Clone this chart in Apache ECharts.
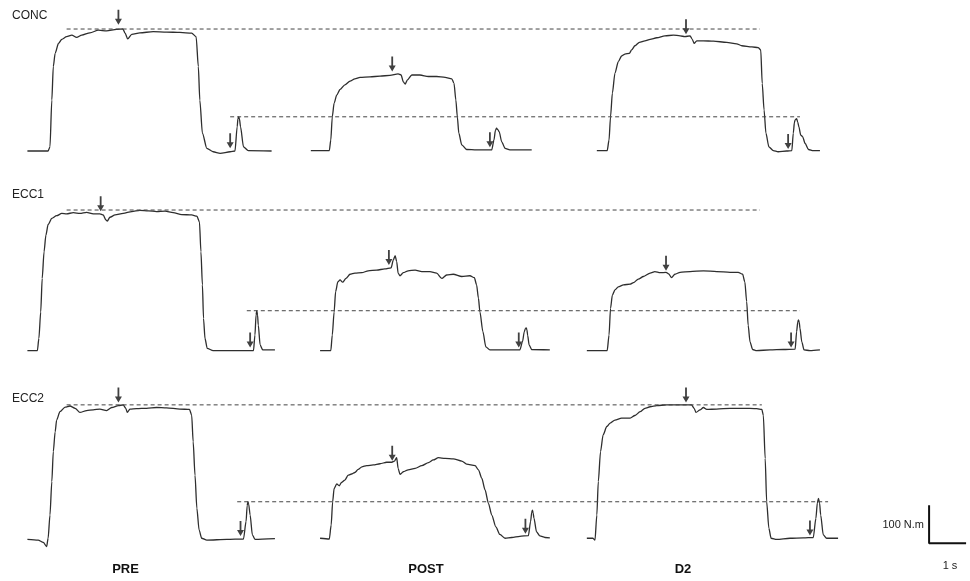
<!DOCTYPE html>
<html>
<head>
<meta charset="utf-8">
<title>Torque traces</title>
<script src="https://cdn.jsdelivr.net/npm/echarts@6/dist/echarts.min.js"></script>
<style>
  html, body { margin: 0; padding: 0; background: #fff; }
  #chart { width: 970px; height: 581px; }
</style>
</head>
<body>
<div id="chart"></div>
<script>
// Torque traces (N.m vs s) for three contraction types at PRE / POST / D2.
// Arrows mark the superimposed and potentiated twitches.

const rowNames = ['CONC', 'ECC1', 'ECC2'];
const sessionNames = ['PRE', 'POST', 'D2'];

// [time s, torque N.m]
const concPre = [[0.20,0],[0.76,0],[0.81,11],[0.86,134],[0.90,222],[0.95,257],[1.04,283],[1.13,294],[1.26,301],[1.40,305],[1.53,299],[1.67,305],[1.89,311],[2.12,318],[2.34,316],[2.61,320],[2.78,321],[2.84,310],[2.91,295],[3.02,307],[3.24,311],[3.60,314],[3.96,313],[4.32,312],[4.64,310],[4.76,301],[4.82,222],[4.86,134],[4.93,47],[5.05,7],[5.22,-2],[5.41,-6],[5.68,-2],[5.81,0],[5.87,64],[5.89,85],[5.91,90],[5.93,85],[5.96,64],[6.04,11],[6.17,1],[6.80,0]];
const concPost = [[7.86,1],[8.36,1],[8.40,29],[8.44,90],[8.49,126],[8.56,147],[8.65,162],[8.78,174],[8.92,184],[9.05,190],[9.19,194],[9.46,195],[9.73,197],[10.00,199],[10.22,203],[10.30,200],[10.36,182],[10.41,176],[10.47,187],[10.59,200],[10.81,200],[11.04,196],[11.26,196],[11.49,194],[11.67,190],[11.73,178],[11.78,134],[11.82,90],[11.86,47],[11.94,16],[12.07,4],[12.34,3],[12.75,3],[12.81,29],[12.85,55],[12.88,60],[12.91,57],[12.95,51],[13.02,24],[13.11,7],[13.24,3],[13.83,3]];
const concD2 = [[15.59,1],[15.87,1],[15.92,29],[15.96,90],[16.01,152],[16.08,205],[16.17,235],[16.26,250],[16.35,255],[16.47,257],[16.53,266],[16.62,277],[16.74,286],[16.89,290],[17.03,294],[17.21,298],[17.43,303],[17.66,305],[17.84,303],[17.97,301],[18.11,303],[18.17,294],[18.22,283],[18.29,290],[18.47,290],[18.74,289],[19.10,286],[19.37,282],[19.51,277],[19.78,274],[19.95,272],[20.02,266],[20.06,178],[20.11,108],[20.16,47],[20.24,11],[20.36,1],[20.49,-2],[20.72,0],[20.86,1],[20.90,47],[20.93,75],[20.95,82],[20.99,85],[21.02,76],[21.05,64],[21.10,42],[21.15,38],[21.22,20],[21.31,4],[21.44,1],[21.62,1]];

const ecc1Pre = [[0.20,1],[0.47,1],[0.51,33],[0.56,103],[0.60,191],[0.65,261],[0.70,305],[0.76,333],[0.86,349],[0.99,356],[1.13,362],[1.26,361],[1.44,364],[1.62,362],[1.80,365],[1.98,361],[2.16,361],[2.25,358],[2.32,345],[2.36,342],[2.43,352],[2.57,358],[2.79,362],[3.02,367],[3.24,370],[3.47,369],[3.69,367],[3.92,368],[4.14,364],[4.37,359],[4.64,358],[4.78,355],[4.85,340],[4.89,261],[4.93,174],[4.96,86],[5.00,33],[5.06,7],[5.22,1],[5.76,1],[6.31,1],[6.35,42],[6.38,95],[6.40,106],[6.42,95],[6.44,68],[6.49,16],[6.56,3],[6.89,3]];
const ecc1Post = [[8.11,1],[8.40,1],[8.44,42],[8.49,103],[8.53,156],[8.59,182],[8.65,187],[8.72,181],[8.81,191],[8.92,202],[9.05,205],[9.24,206],[9.41,211],[9.64,213],[9.86,216],[10.03,219],[10.09,240],[10.14,251],[10.18,235],[10.22,205],[10.27,198],[10.36,206],[10.49,211],[10.68,213],[10.86,209],[11.08,209],[11.26,205],[11.40,191],[11.53,200],[11.71,202],[11.94,196],[12.16,198],[12.28,193],[12.34,174],[12.39,139],[12.43,103],[12.51,51],[12.59,11],[12.70,3],[13.06,3],[13.51,3],[13.58,24],[13.63,51],[13.66,59],[13.68,61],[13.70,56],[13.72,42],[13.76,16],[13.83,4],[14.32,3]];
const ecc1D2 = [[15.32,1],[15.87,1],[15.92,42],[15.96,112],[16.01,147],[16.08,161],[16.17,169],[16.31,174],[16.49,176],[16.58,180],[16.71,189],[16.85,196],[17.03,205],[17.16,209],[17.30,206],[17.46,207],[17.53,203],[17.61,193],[17.70,202],[17.84,207],[18.11,209],[18.47,211],[18.83,209],[19.19,207],[19.41,207],[19.53,202],[19.59,182],[19.64,130],[19.68,68],[19.73,24],[19.80,4],[19.91,1],[20.27,3],[20.63,4],[20.95,5],[20.99,51],[21.02,76],[21.04,82],[21.06,76],[21.08,60],[21.13,24],[21.19,3],[21.35,1],[21.62,3]];

const ecc2Pre = [[0.20,-1],[0.49,-3],[0.63,-9],[0.72,-20],[0.76,2],[0.81,63],[0.86,151],[0.90,230],[0.95,282],[0.99,313],[1.08,335],[1.22,347],[1.35,350],[1.49,344],[1.62,333],[1.80,338],[1.98,340],[2.16,342],[2.34,338],[2.48,346],[2.66,351],[2.79,353],[2.86,344],[2.90,333],[2.97,342],[3.15,343],[3.42,344],[3.69,346],[3.96,345],[4.32,342],[4.58,341],[4.64,326],[4.68,256],[4.73,168],[4.78,81],[4.84,24],[4.91,2],[5.05,-3],[5.59,-1],[6.04,0],[6.11,46],[6.14,88],[6.16,98],[6.18,92],[6.22,63],[6.28,11],[6.35,-1],[6.89,1]];
const ecc2Post = [[8.11,2],[8.36,0],[8.41,37],[8.45,98],[8.49,133],[8.56,145],[8.63,140],[8.69,149],[8.78,155],[8.87,168],[8.96,171],[9.05,175],[9.14,183],[9.24,190],[9.37,193],[9.55,195],[9.73,198],[9.91,202],[10.05,202],[10.12,205],[10.18,214],[10.22,186],[10.27,170],[10.36,177],[10.49,182],[10.68,186],[10.86,193],[11.04,201],[11.17,208],[11.31,214],[11.49,212],[11.71,211],[11.94,205],[12.07,197],[12.30,193],[12.39,182],[12.48,160],[12.57,129],[12.66,94],[12.75,63],[12.86,32],[12.97,12],[13.11,2],[13.29,4],[13.51,7],[13.74,9],[13.80,46],[13.83,70],[13.85,76],[13.87,68],[13.89,55],[13.96,19],[14.05,8],[14.19,4],[14.32,3]];
const ecc2D2 = [[15.32,2],[15.48,2],[15.54,-3],[15.59,63],[15.63,151],[15.69,230],[15.76,274],[15.86,296],[15.95,305],[16.08,313],[16.26,318],[16.49,318],[16.62,325],[16.76,335],[16.89,344],[17.03,348],[17.21,351],[17.48,353],[17.75,353],[18.02,353],[18.15,353],[18.22,344],[18.27,333],[18.38,340],[18.47,346],[18.56,341],[18.83,342],[19.19,344],[19.55,344],[19.91,343],[20.05,341],[20.09,326],[20.14,212],[20.18,98],[20.24,28],[20.30,2],[20.45,-1],[20.81,2],[21.17,3],[21.44,4],[21.51,54],[21.55,95],[21.58,107],[21.61,95],[21.64,63],[21.71,11],[21.80,2],[22.11,2]];

// arrow tips [time s, torque N.m]
const concArrows = [[2.66,332],[5.68,7],[10.06,209],[12.70,10],[18.00,307],[20.76,5]];
const ecc1Arrows = [[2.18,368],[6.22,9],[9.97,226],[13.48,9],[17.46,211],[20.84,9]];
const ecc2Arrows = [[2.66,359],[5.96,8],[10.06,206],[13.66,14],[18.00,359],[21.35,9]];

// dashed reference levels (PRE MVC and PRE twitch) and their time spans
const mvcLevel = [321, 371, 353];
const twitchLevel = [90, 106, 98];
const mvcSpan = [[1.26, 20.0], [1.26, 20.0], [1.26, 20.05]];
const twitchSpan = [[5.68, 21.08], [6.13, 21.08], [5.87, 21.84]];

// scale bar: 1 s by 100 N.m
const scaleTime = [24.57, 25.57];
const scaleTorque = [-11, 89];

const traces = [
  [concPre, concPost, concD2],
  [ecc1Pre, ecc1Post, ecc1D2],
  [ecc2Pre, ecc2Post, ecc2D2],
];
const arrows = [concArrows, ecc1Arrows, ecc2Arrows];

const PX_PER_S = 37;
const PX_PER_NM = 0.38;
const Y_MIN = -40, Y_MAX = 380, X_MAX = 25.6;
const rowZero = [151, 351, 539]; // pixel y of the 0 N.m baseline in each row

const ARROW = 'path://M2.6,0 L4.4,0 L4.4,9 L7,9 L3.5,15 L0,9 L2.6,9 Z';
const TRACE_COLOR = '#2e2e2e';

const chart = echarts.init(document.getElementById('chart'));

const grid = rowZero.map((z) => ({
  left: 20,
  top: z - Y_MAX * PX_PER_NM,
  width: X_MAX * PX_PER_S,
  height: (Y_MAX - Y_MIN) * PX_PER_NM,
  outerBoundsMode: 'none',
}));
const xAxis = rowZero.map((_, i) => ({ type: 'value', gridIndex: i, min: 0, max: X_MAX, show: false }));
const yAxis = rowZero.map((_, i) => ({ type: 'value', gridIndex: i, min: Y_MIN, max: Y_MAX, show: false }));

const series = [];
rowNames.forEach((row, i) => {
  traces[i].forEach((data, j) => {
    series.push({
      name: row + ' ' + sessionNames[j],
      type: 'line', xAxisIndex: i, yAxisIndex: i,
      data: data, showSymbol: false, smooth: 0.25, smoothMonotone: 'x',
      clip: false, silent: true,
      lineStyle: { color: TRACE_COLOR, width: 1.3 },
    });
  });
  const dashed = { type: [4, 3], color: '#444', width: 1 };
  series.push({
    type: 'line', xAxisIndex: i, yAxisIndex: i, showSymbol: false, silent: true,
    data: [[mvcSpan[i][0], mvcLevel[i]], [mvcSpan[i][1], mvcLevel[i]]],
    lineStyle: dashed,
  });
  series.push({
    type: 'line', xAxisIndex: i, yAxisIndex: i, showSymbol: false, silent: true,
    data: [[twitchSpan[i][0], twitchLevel[i]], [twitchSpan[i][1], twitchLevel[i]]],
    lineStyle: dashed,
  });
  series.push({
    type: 'scatter', xAxisIndex: i, yAxisIndex: i, silent: true, clip: false,
    data: arrows[i], symbol: ARROW, symbolSize: [7, 15], symbolOffset: [0, '-50%'],
    itemStyle: { color: '#111' },
  });
});

// scale bar in the bottom row
series.push({
  type: 'line', xAxisIndex: 2, yAxisIndex: 2, showSymbol: false, silent: true, clip: false,
  data: [[scaleTime[0], scaleTorque[1]], [scaleTime[0], scaleTorque[0]], [scaleTime[1], scaleTorque[0]]],
  lineStyle: { color: '#111', width: 2 },
});

const FONT = '"Liberation Sans", Arial, sans-serif';
const label = (text, x, y, opts) => ({
  type: 'text', x: x, y: y, silent: true,
  style: Object.assign({ text: text, font: '12px ' + FONT, fill: '#222', textVerticalAlign: 'middle' }, opts || {}),
});

chart.setOption({
  animation: false,
  backgroundColor: '#fff',
  grid, xAxis, yAxis, series,
  graphic: [
    label(rowNames[0], 12, 16),
    label(rowNames[1], 12, 195),
    label(rowNames[2], 12, 399),
    label(sessionNames[0], 125.5, 569, { font: 'bold 13px ' + FONT, textAlign: 'center', fill: '#111' }),
    label(sessionNames[1], 426, 569, { font: 'bold 13px ' + FONT, textAlign: 'center', fill: '#111' }),
    label(sessionNames[2], 683, 569, { font: 'bold 13px ' + FONT, textAlign: 'center', fill: '#111' }),
    label('100 N.m', 924, 525, { font: '11px ' + FONT, textAlign: 'right' }),
    label('1 s', 950, 566, { font: '11px ' + FONT, textAlign: 'center' }),
  ],
});

window.addEventListener('resize', () => chart.resize());
</script>
</body>
</html>
